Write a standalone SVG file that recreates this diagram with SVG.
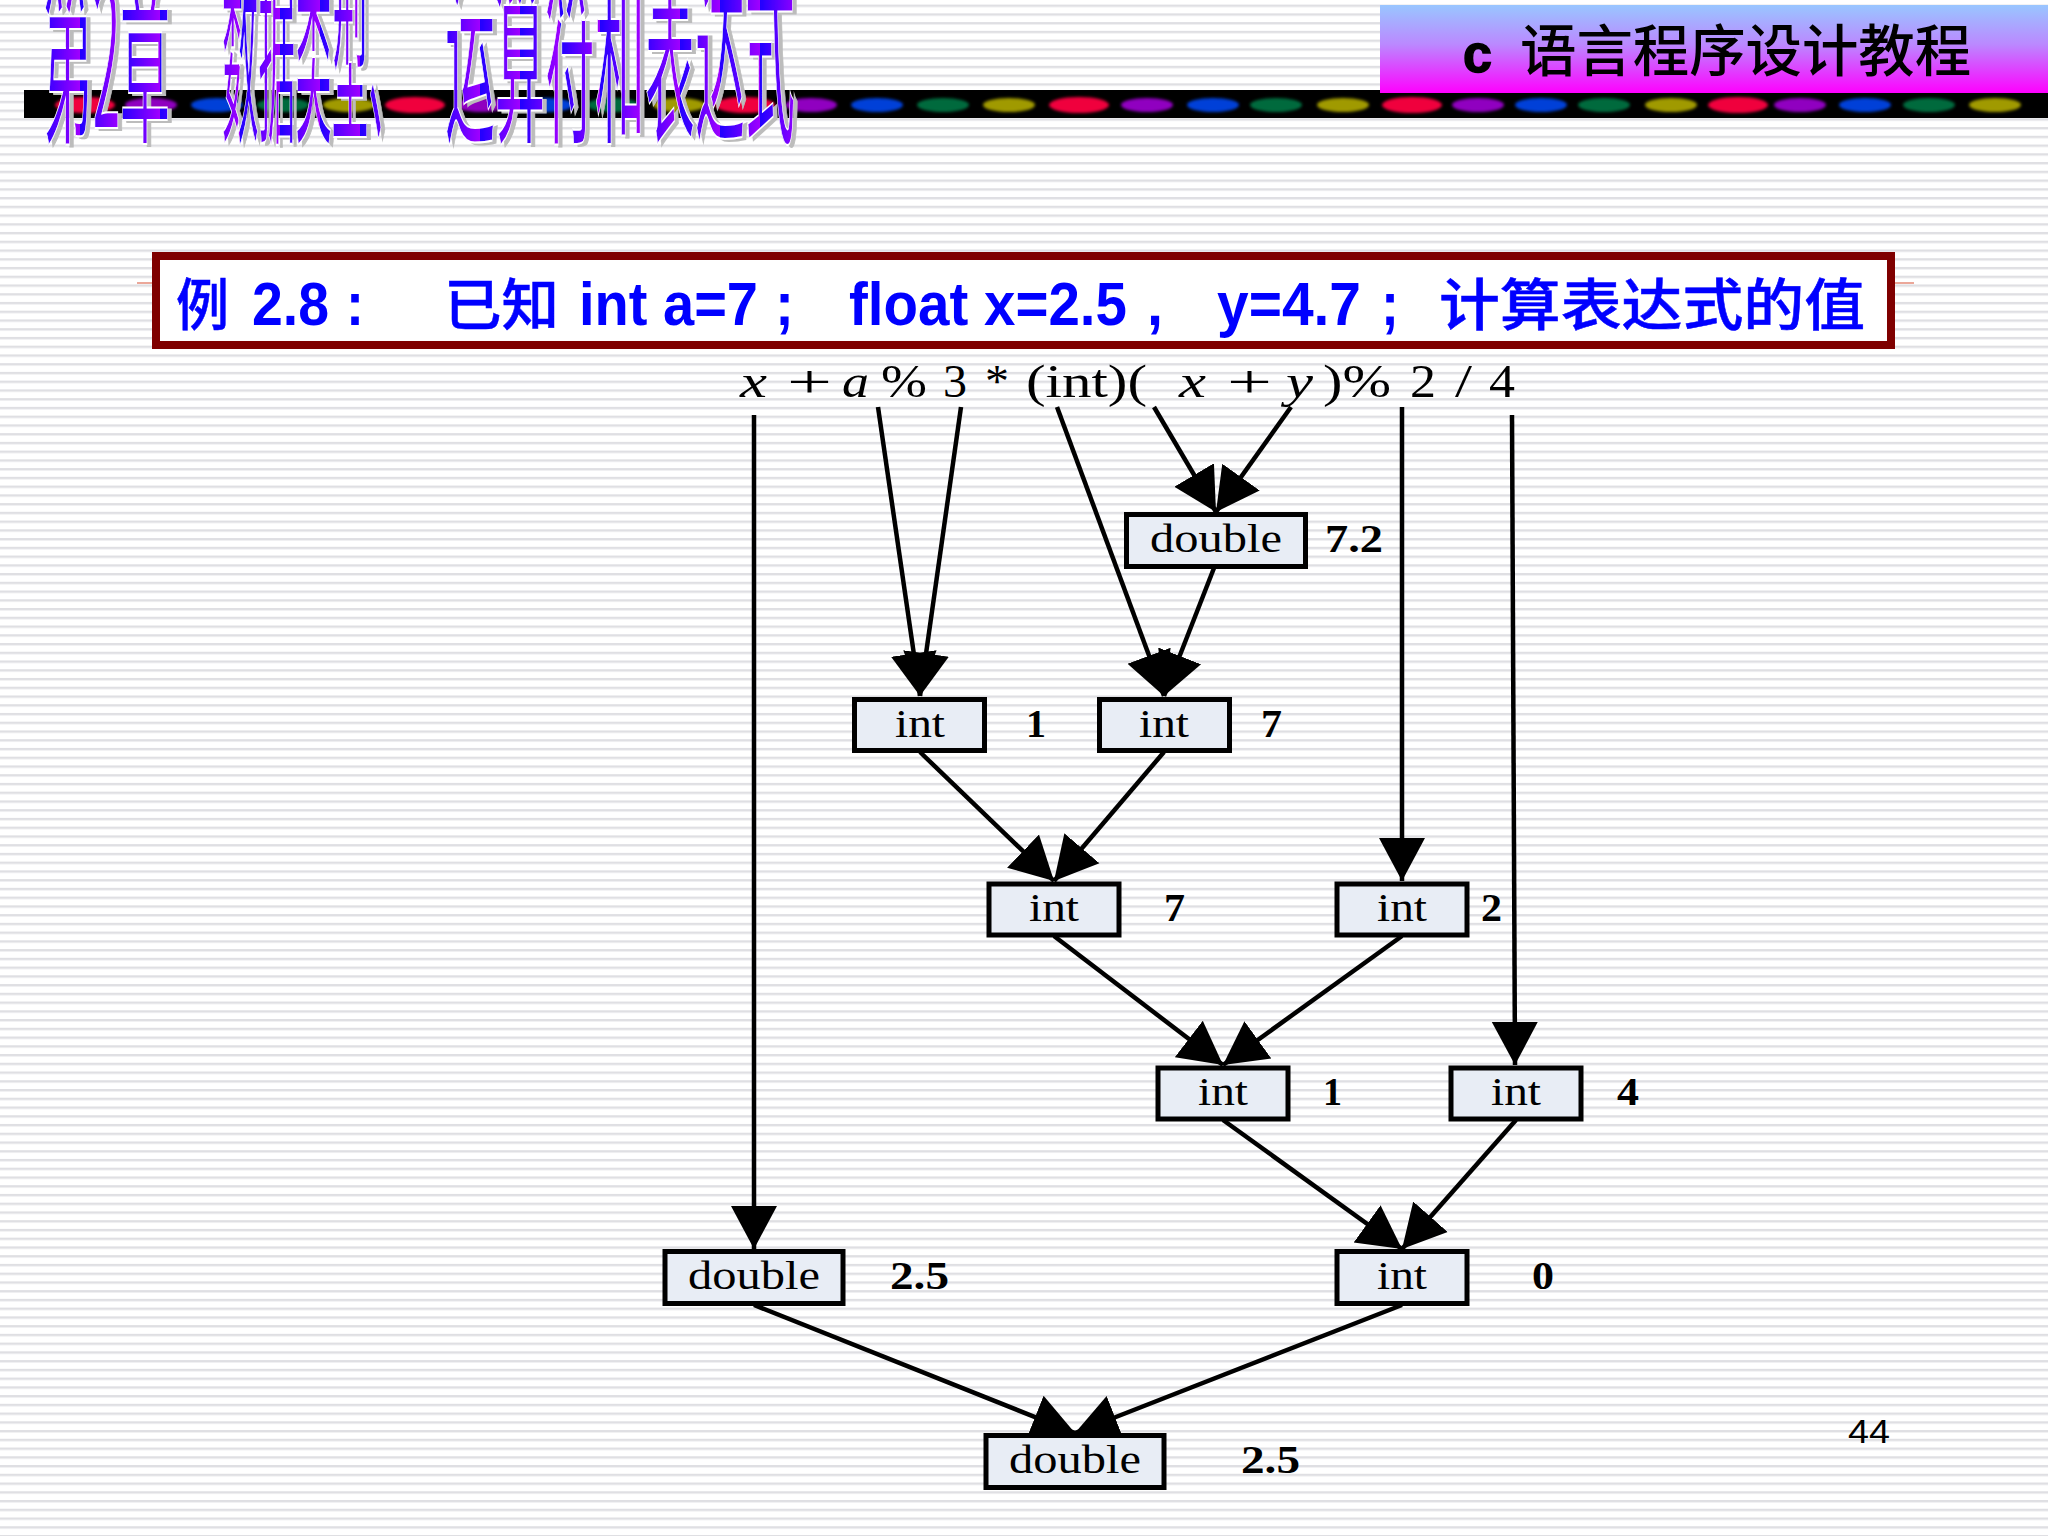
<svg xmlns="http://www.w3.org/2000/svg" width="2048" height="1536" viewBox="0 0 2048 1536">
<style>
.box{fill:#e8edf5;stroke:#000;stroke-width:5}
.t{font-family:"Liberation Serif",serif;font-size:39px;fill:#000;text-anchor:start}
.v{font-family:"Liberation Serif",serif;font-size:39px;font-weight:700;fill:#000}
.f{font-family:"Liberation Serif",serif;font-size:46px;fill:#000}
.i{font-style:italic}
.c{stroke:#000;stroke-width:4.5;fill:none;marker-end:url(#ah)}
.b{font-family:"Liberation Sans","Noto Sans CJK SC",sans-serif;font-size:62px;font-weight:700;fill:#0000ff}
.bc{font-family:"Noto Sans CJK SC",sans-serif;font-size:56px;font-weight:500;fill:#0000ff;stroke:#0000ff;stroke-width:.5}
.h{font-family:"Noto Sans CJK SC",sans-serif;font-size:50px;font-weight:400}
.hf{fill:url(#tg);stroke:#fff;stroke-width:.5}
.r{fill:#f0003c}.p{fill:#9000c0}.u{fill:#0040d8}.g{fill:#006a3c}.y{fill:#a09a00}
</style>
<defs>
<pattern id="st" patternUnits="userSpaceOnUse" width="16" height="8.745" y="4.6"><rect width="16" height="2.4" fill="#dfdfe3"/></pattern>
<linearGradient id="hd" x1="0" y1="0" x2="0" y2="1"><stop offset="0" stop-color="#99c6ff"/><stop offset=".45" stop-color="#bb88ff"/><stop offset="1" stop-color="#ff00ff"/></linearGradient>
<linearGradient id="tg" gradientUnits="userSpaceOnUse" x1="0" y1="0" x2="40" y2="0" spreadMethod="repeat"><stop offset="0" stop-color="#2000ff"/><stop offset="1" stop-color="#a000ff"/></linearGradient>
<marker id="ah" markerUnits="userSpaceOnUse" markerWidth="44" markerHeight="48" viewBox="0 0 44 48" refX="43" refY="24" orient="auto"><path d="M0 1L43 24L0 47Z" fill="#000"/></marker>
<filter id="bl" x="-20%" y="-50%" width="140%" height="200%"><feGaussianBlur stdDeviation="1.6"/></filter>
<filter id="ds" x="-5%" y="-5%" width="110%" height="110%"><feDropShadow dx="4" dy="2" stdDeviation="0.4" flood-color="#bcbcbc"/></filter>
</defs>
<rect width="2048" height="1536" fill="#fff"/>
<rect width="2048" height="1536" fill="url(#st)"/>

<g id="band">
<rect x="24" y="90" width="2024" height="28" fill="#000"/>
<g filter="url(#bl)">
<ellipse class="r" cx="85" cy="105" rx="30" ry="8"/><ellipse class="p" cx="151" cy="105" rx="26" ry="7"/><ellipse class="u" cx="217" cy="105" rx="26" ry="7"/><ellipse class="g" cx="283" cy="105" rx="26" ry="7"/><ellipse class="y" cx="349" cy="105" rx="26" ry="7"/>
<ellipse class="r" cx="415" cy="105" rx="30" ry="8"/><ellipse class="p" cx="481" cy="105" rx="26" ry="7"/><ellipse class="u" cx="547" cy="105" rx="26" ry="7"/><ellipse class="g" cx="613" cy="105" rx="26" ry="7"/><ellipse class="y" cx="679" cy="105" rx="26" ry="7"/>
<ellipse class="r" cx="745" cy="105" rx="30" ry="8"/><ellipse class="p" cx="811" cy="105" rx="26" ry="7"/><ellipse class="u" cx="877" cy="105" rx="26" ry="7"/><ellipse class="g" cx="943" cy="105" rx="26" ry="7"/><ellipse class="y" cx="1009" cy="105" rx="26" ry="7"/>
<ellipse class="r" cx="1079" cy="105" rx="30" ry="8"/><ellipse class="p" cx="1147" cy="105" rx="26" ry="7"/><ellipse class="u" cx="1213" cy="105" rx="26" ry="7"/><ellipse class="g" cx="1276" cy="105" rx="26" ry="7"/><ellipse class="y" cx="1343" cy="105" rx="26" ry="7"/>
<ellipse class="r" cx="1412" cy="105" rx="30" ry="8"/><ellipse class="p" cx="1478" cy="105" rx="26" ry="7"/><ellipse class="u" cx="1541" cy="105" rx="26" ry="7"/><ellipse class="g" cx="1604" cy="105" rx="26" ry="7"/><ellipse class="y" cx="1671" cy="105" rx="26" ry="7"/>
<ellipse class="r" cx="1738" cy="105" rx="30" ry="8"/><ellipse class="p" cx="1800" cy="105" rx="26" ry="7"/><ellipse class="u" cx="1865" cy="105" rx="26" ry="7"/><ellipse class="g" cx="1929" cy="105" rx="26" ry="7"/><ellipse class="y" cx="1995" cy="105" rx="26" ry="7"/>
</g>
</g>

<g id="chapter-title" filter="url(#ds)">
<g transform="scale(1,4)" class="h hf">
<text x="43" y="32" textLength="127" lengthAdjust="spacingAndGlyphs">第2章</text>
<text x="222" y="32" textLength="183" lengthAdjust="spacingAndGlyphs">数据类型、</text>
<text x="445" y="32" textLength="350" lengthAdjust="spacingAndGlyphs">运算符和表达式</text>
</g>
</g>

<g id="course-title">
<rect x="1380" y="5" width="668" height="88" fill="url(#hd)"/>
<text x="1463" y="72" font-family="'Liberation Sans',sans-serif" font-weight="700" font-size="54" textLength="29" lengthAdjust="spacingAndGlyphs" stroke="#000" stroke-width="1.5">c</text>
<text x="1520" y="71" font-family="'Noto Sans CJK SC',sans-serif" font-weight="500" font-size="56" textLength="451" lengthAdjust="spacingAndGlyphs">语言程序设计教程</text>
</g>

<g id="example">
<path d="M137 283H153M1894 283H1914" stroke="#e58a78" stroke-width="1.5"/>
<rect x="156" y="256" width="1735" height="89" fill="#fff" stroke="#7f0000" stroke-width="8"/>
<text class="bc" x="176" y="325" textLength="53" lengthAdjust="spacingAndGlyphs">例</text>
<text class="b" x="252" y="325" textLength="77" lengthAdjust="spacingAndGlyphs">2.8</text>
<text class="b" x="346" y="325" textLength="18" lengthAdjust="spacingAndGlyphs">:</text>
<text class="bc" x="444" y="325" textLength="115" lengthAdjust="spacingAndGlyphs">已知</text>
<text class="b" x="579" y="325" textLength="179" lengthAdjust="spacingAndGlyphs">int a=7</text>
<text class="b" x="775" y="325" textLength="19" lengthAdjust="spacingAndGlyphs">;</text>
<text class="b" x="849" y="325" textLength="278" lengthAdjust="spacingAndGlyphs">float x=2.5</text>
<text class="b" x="1147" y="325" textLength="16" lengthAdjust="spacingAndGlyphs">,</text>
<text class="b" x="1217" y="325" textLength="144" lengthAdjust="spacingAndGlyphs">y=4.7</text>
<text class="b" x="1381" y="325" textLength="18" lengthAdjust="spacingAndGlyphs">;</text>
<text class="bc" x="1439" y="325" textLength="426" lengthAdjust="spacingAndGlyphs">计算表达式的值</text>
</g>

<g id="expression">
<text class="f i" x="740" y="397" textLength="27" lengthAdjust="spacingAndGlyphs">x</text>
<text class="f" x="787" y="397" textLength="45" lengthAdjust="spacingAndGlyphs">+</text>
<text class="f i" x="842" y="397" textLength="27" lengthAdjust="spacingAndGlyphs">a</text>
<text class="f" x="881" y="397" textLength="46" lengthAdjust="spacingAndGlyphs">%</text>
<text class="f" x="943" y="397" textLength="24" lengthAdjust="spacingAndGlyphs">3</text>
<text class="f" x="985" y="397" textLength="24" lengthAdjust="spacingAndGlyphs">*</text>
<text class="f" x="1026" y="397" textLength="121" lengthAdjust="spacingAndGlyphs">(int)(</text>
<text class="f i" x="1179" y="397" textLength="27" lengthAdjust="spacingAndGlyphs">x</text>
<text class="f" x="1227" y="397" textLength="45" lengthAdjust="spacingAndGlyphs">+</text>
<text class="f i" x="1286" y="397" textLength="27" lengthAdjust="spacingAndGlyphs">y</text>
<text class="f" x="1323" y="397" textLength="68" lengthAdjust="spacingAndGlyphs">)%</text>
<text class="f" x="1410" y="397" textLength="26" lengthAdjust="spacingAndGlyphs">2</text>
<text class="f" x="1455" y="397" textLength="17" lengthAdjust="spacingAndGlyphs">/</text>
<text class="f" x="1489" y="397" textLength="26" lengthAdjust="spacingAndGlyphs">4</text>
</g>

<g id="connectors">
<line class="c" x1="754" y1="415" x2="754" y2="1249"/>
<line class="c" x1="878" y1="407" x2="920" y2="696"/>
<line class="c" x1="961" y1="407" x2="920" y2="696"/>
<line class="c" x1="1057" y1="407" x2="1164" y2="696"/>
<line class="c" x1="1154" y1="407" x2="1216" y2="512"/>
<line class="c" x1="1291" y1="407" x2="1216" y2="512"/>
<line class="c" x1="1214" y1="568" x2="1164" y2="696"/>
<line class="c" x1="1402" y1="407" x2="1402" y2="881"/>
<line class="c" x1="1512" y1="415" x2="1515" y2="1065"/>
<line class="c" x1="920" y1="752" x2="1054" y2="881"/>
<line class="c" x1="1164" y1="752" x2="1054" y2="881"/>
<line class="c" x1="1054" y1="936" x2="1223" y2="1065"/>
<line class="c" x1="1402" y1="936" x2="1223" y2="1065"/>
<line class="c" x1="1223" y1="1120" x2="1402" y2="1249"/>
<line class="c" x1="1516" y1="1120" x2="1402" y2="1249"/>
<line class="c" x1="754" y1="1305" x2="1075" y2="1433"/>
<line class="c" x1="1402" y1="1305" x2="1075" y2="1433"/>
</g>

<g id="n-double-72"><rect class="box" x="1126.500" y="514.500" width="179" height="52"/><text class="t" x="1150" y="552" textLength="132" lengthAdjust="spacingAndGlyphs">double</text><text class="v" x="1325" y="552" textLength="58" lengthAdjust="spacingAndGlyphs">7.2</text></g>
<g id="n-int-1"><rect class="box" x="854.500" y="699.500" width="130" height="51"/><text class="t" x="895" y="737" textLength="50" lengthAdjust="spacingAndGlyphs">int</text><text class="v" x="1026" y="737" textLength="20" lengthAdjust="spacingAndGlyphs">1</text></g>
<g id="n-int-7a"><rect class="box" x="1099.500" y="699.500" width="130" height="51"/><text class="t" x="1139" y="737" textLength="50" lengthAdjust="spacingAndGlyphs">int</text><text class="v" x="1261" y="737" textLength="21" lengthAdjust="spacingAndGlyphs">7</text></g>
<g id="n-int-7b"><rect class="box" x="989" y="884" width="130" height="51"/><text class="t" x="1029" y="921" textLength="50" lengthAdjust="spacingAndGlyphs">int</text><text class="v" x="1164" y="921" textLength="21" lengthAdjust="spacingAndGlyphs">7</text></g>
<g id="n-int-2"><rect class="box" x="1337" y="884" width="130" height="51"/><text class="t" x="1377" y="921" textLength="50" lengthAdjust="spacingAndGlyphs">int</text><text class="v" x="1481" y="921" textLength="21" lengthAdjust="spacingAndGlyphs">2</text></g>
<g id="n-int-1b"><rect class="box" x="1158" y="1068" width="130" height="51"/><text class="t" x="1198" y="1105" textLength="50" lengthAdjust="spacingAndGlyphs">int</text><text class="v" x="1323" y="1105" textLength="19" lengthAdjust="spacingAndGlyphs">1</text></g>
<g id="n-int-4"><rect class="box" x="1451" y="1068" width="130" height="51"/><text class="t" x="1491" y="1105" textLength="50" lengthAdjust="spacingAndGlyphs">int</text><text class="v" x="1617" y="1105" textLength="22" lengthAdjust="spacingAndGlyphs">4</text></g>
<g id="n-double-25a"><rect class="box" x="665" y="1251.500" width="178" height="52"/><text class="t" x="688" y="1289" textLength="132" lengthAdjust="spacingAndGlyphs">double</text><text class="v" x="890" y="1289" textLength="59" lengthAdjust="spacingAndGlyphs">2.5</text></g>
<g id="n-int-0"><rect class="box" x="1337" y="1251.500" width="130" height="52"/><text class="t" x="1377" y="1289" textLength="50" lengthAdjust="spacingAndGlyphs">int</text><text class="v" x="1532" y="1289" textLength="22" lengthAdjust="spacingAndGlyphs">0</text></g>
<g id="n-double-25b"><rect class="box" x="986" y="1435.500" width="178" height="52"/><text class="t" x="1009" y="1473" textLength="132" lengthAdjust="spacingAndGlyphs">double</text><text class="v" x="1241" y="1473" textLength="59" lengthAdjust="spacingAndGlyphs">2.5</text></g>

<text id="page-number" x="1848" y="1443" font-family="'Liberation Sans',sans-serif" font-size="34" textLength="42" lengthAdjust="spacingAndGlyphs">44</text>
</svg>
